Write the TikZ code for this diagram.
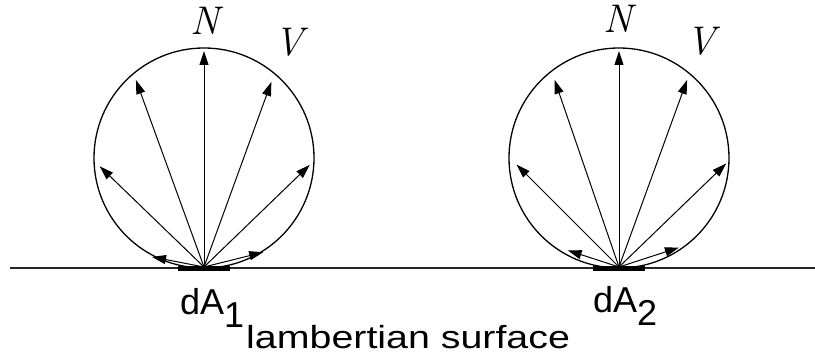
\documentclass[tikz,border=0pt]{standalone}
\usepackage{fontspec}
\newfontfamily\labfont{Liberation Sans}
\usetikzlibrary{arrows.meta,positioning,calc}
\tikzset{
  ray/.style={-{Triangle[length=14pt,width=9pt]}, line width=1pt},
  lobe/.style={draw=black, line width=1.3pt},
  patch/.style={fill=black, minimum width=52pt, minimum height=5pt, inner sep=0pt},
  vec/.style={font=\itshape\fontsize{40}{44}\selectfont},
  area/.style={font=\labfont\fontsize{36}{38}\selectfont, anchor=base west, inner sep=0pt}
}

\begin{document}
\begin{tikzpicture}[x=1pt, y=1pt]
\useasboundingbox (0,0) rectangle (815,362);
% surface
\coordinate (s0) at (10,94);
\coordinate (s1) at (815,94);
\draw[black!85, line width=1.4pt] (s0) -- (s1);
% patch 1
\coordinate (c1) at (204,204);
\coordinate (o1) at (204,95);
\draw[lobe] (c1) circle (110);
\foreach \a/\l [count=\i] in {79/53, 46/145, 20/199, 0/216, -20/197, -46/147, -76/61} {
  \path (o1) ++(90+\a:\l) coordinate (ta\i);
  \draw[ray] (o1) -- (ta\i);
}
\node[patch] (p1) at (204,93) {};
\node[vec] (n1) at (205,341) {N};
\node[vec] (v1) at (289,320) {V};
\node[area] (da1) at (180,47) {dA\raisebox{-13pt}{1}};
% patch 2
\coordinate (c2) at (619,204);
\coordinate (o2) at (619,95);
\draw[lobe] (c2) circle (110);
\foreach \a/\l [count=\i] in {72/54, 45/145, 19/198, 0/216, -20/199, -46/149, -72/63} {
  \path (o2) ++(90+\a:\l) coordinate (tb\i);
  \draw[ray] (o2) -- (tb\i);
}
\node[patch] (p2) at (619,93) {};
\node[vec] (n2) at (618,343) {N};
\node[vec] (v2) at (701,321) {V};
\node[area] (da2) at (593,49) {dA\raisebox{-13pt}{2}};
% caption
\node[area, font=\labfont\fontsize{32}{36}\selectfont, xscale=1.23] (cap) at (246,13) {lambertian surface};
\end{tikzpicture}
\end{document}
